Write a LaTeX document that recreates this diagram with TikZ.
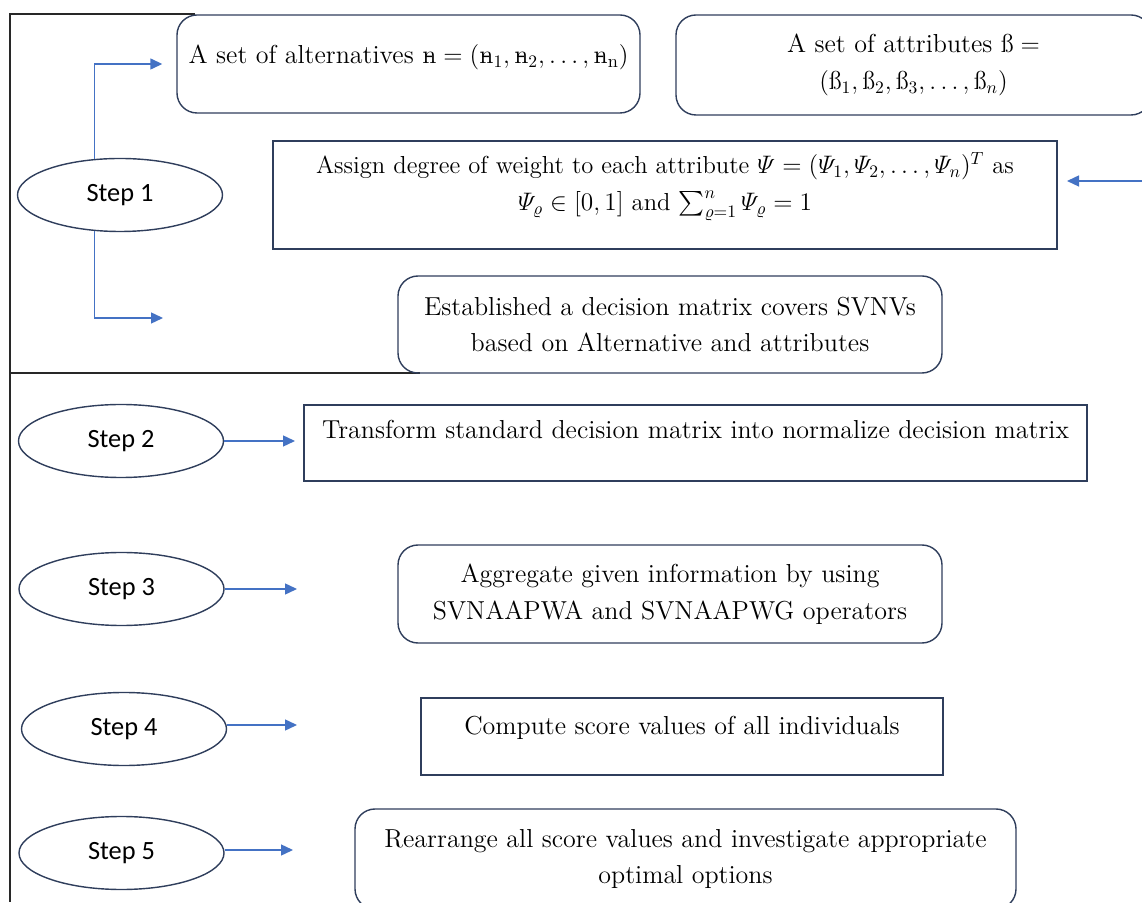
\documentclass[tikz,border=0pt]{standalone}
\usepackage{amsmath,amssymb}
\usepackage{fontspec}
\usepackage{tikz}
\usepackage{xcolor}
\usetikzlibrary{arrows.meta,shapes.geometric,calc}
\newfontfamily\stepfont{Carlito}
\definecolor{framegray}{RGB}{40,40,40}
\definecolor{boxnavy}{RGB}{47,62,92}
\definecolor{arrowblue}{RGB}{68,114,196}
\newcommand{\altn}{\text{\ooalign{n\cr\hidewidth\raisebox{0.1ex}{-}\hidewidth\cr}}}
\newcommand{\attb}{\text{ß}}

\begin{document}
\begin{tikzpicture}[
  stepnode/.style={ellipse, draw=boxnavy, line width=0.8pt, minimum width=4.1cm, minimum height=1.46cm,
    font=\stepfont\fontsize{15}{17}\selectfont},
  plainbox/.style={rectangle, draw=boxnavy, line width=0.8pt, align=center,
    font=\fontsize{14.8}{21}\selectfont},
  roundbox/.style={plainbox, rounded corners=0.4cm},
  link/.style={draw=arrowblue, line width=0.8pt, -{Triangle[length=2.4mm,width=2.2mm]}},
  frameline/.style={draw=framegray, line width=0.9pt}]
  \useasboundingbox (0,0) rectangle (22.84,18.04);

  % outer frame of step 1
  \draw[frameline] (3.9,17.76) -- (0.2,17.76) -- (0.2,0);
  \draw[frameline] (0.2,10.58) -- (8.4,10.58);

  % step ellipses
  \node[stepnode] (s1) at (2.4,14.14) {Step 1};
  \node[stepnode] (s2) at (2.42,9.22) {Step 2};
  \node[stepnode] (s3) at (2.43,6.26) {Step 3};
  \node[stepnode] (s4) at (2.48,3.46) {Step 4};
  \node[stepnode] (s5) at (2.43,0.98) {Step 5};

  % boxes
  \node[roundbox, minimum width=9.26cm, minimum height=1.96cm, text depth=0.4cm] (alt) at (8.17,16.76)
    {A set of alternatives $\altn=(\altn_1,\altn_2,\dots,\altn_{\mathrm{n}})$};
  \node[roundbox, minimum width=9.5cm, minimum height=2cm] (att) at (18.27,16.74)
    {A set of attributes $\attb=$\\$(\attb_1,\attb_2,\attb_3,\dots,\attb_n)$};
  \node[plainbox, minimum width=15.68cm, minimum height=2.16cm, text depth=0.55cm,
    font=\fontsize{14}{21}\selectfont] (wgt) at (13.3,14.14)
    {Assign degree of weight to each attribute $\varPsi=(\varPsi_1,\varPsi_2,\dots,\varPsi_n)^T$ as\\
     $\varPsi_\varrho\in[0,1]$ and $\sum_{\varrho=1}^{n}\varPsi_\varrho=1$};
  \node[roundbox, minimum width=10.88cm, minimum height=1.94cm] (dec) at (13.4,11.55)
    {Established a decision matrix covers SVNVs\\based on Alternative and attributes};
  \node[plainbox, minimum width=15.66cm, minimum height=1.52cm, text depth=0.55cm] (nrm) at (13.91,9.18)
    {Transform standard decision matrix into normalize decision matrix};
  \node[roundbox, minimum width=10.88cm, minimum height=1.96cm] (agg) at (13.4,6.16)
    {Aggregate given information by using\\SVNAAPWA and SVNAAPWG operators};
  \node[plainbox, minimum width=10.44cm, minimum height=1.54cm, text depth=0.46cm] (scr) at (13.64,3.31)
    {Compute score values of all individuals};
  \node[roundbox, minimum width=13.22cm, minimum height=2cm] (opt) at (13.71,0.86)
    {Rearrange all score values and investigate appropriate\\optimal options};

  % free arrow ends
  \coordinate (e1) at (3.26,11.68);
  \coordinate (e2) at (5.9,9.22);
  \coordinate (e3) at (5.94,6.26);
  \coordinate (e4) at (5.94,3.54);
  \coordinate (e5) at (5.86,1.04);
  \coordinate (rin) at (22.84,14.42);
  \coordinate (rout) at (21.34,14.42);

  % connectors
  \draw[link, shorten >=0.28cm] (s1.125) |- (alt.west);
  \draw[link] (s1.235) |- (e1);
  \draw[link] (s2.east) -- (e2);
  \draw[link] (s3.east) -- (e3);
  \draw[link] (s4.east |- e4) -- (e4);
  \draw[link] (s5.east |- e5) -- (e5);
  \draw[link] (rin) -- (rout);
\end{tikzpicture}
\end{document}
